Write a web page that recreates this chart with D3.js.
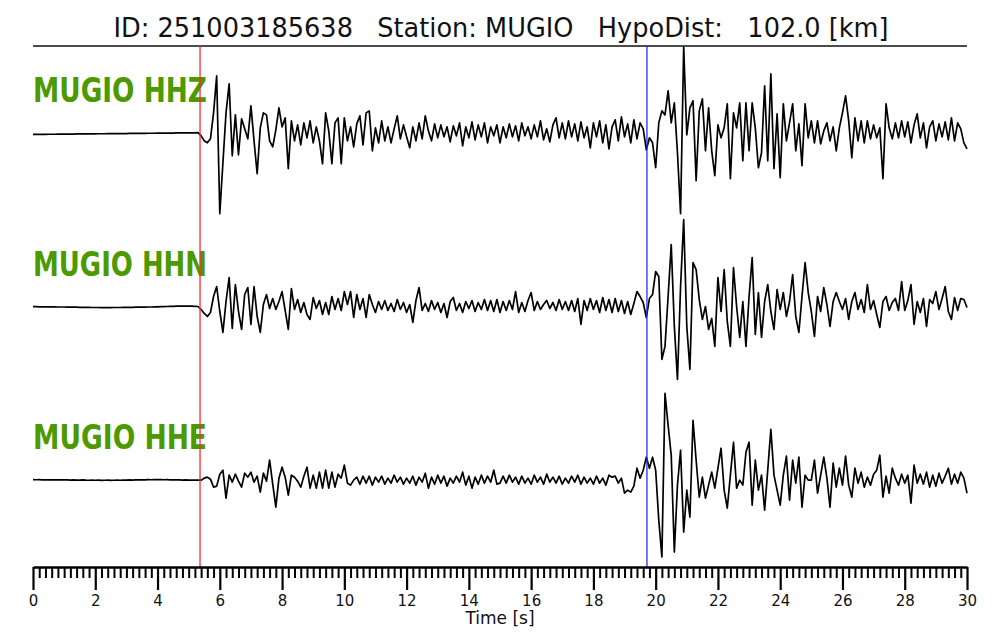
<!DOCTYPE html>
<html><head><meta charset="utf-8">
<script src="https://cdn.jsdelivr.net/npm/d3@7"></script>
<style>body{margin:0;background:#fff}svg{display:block}</style>
</head><body>
<svg id="c" width="1000" height="640"></svg>
<script>
// ---------------- data ----------------
const title = "ID: 251003185638   Station: MUGIO   HypoDist:   102.0 [km]";
const channels = ["MUGIO HHZ", "MUGIO HHN", "MUGIO HHE"];
const xLabel = "Time [s]";
const majorTicks = [0, 2, 4, 6, 8, 10, 12, 14, 16, 18, 20, 22, 24, 26, 28, 30];
const timeDomain = [0, 30];
const sampleStep = 0.1;          // seconds between samples
const pPick = 5.365;             // red pick [s]
const sPick = 19.72;             // blue pick [s]

const hhz = [
-1.6,-1.6,-1.5,-1.5,-1.5,-1.4,-1.4,-1.4,-1.3,-1.3,
-1.3,-1.2,-1.2,-1.2,-1.1,-1.1,-1.1,-1.0,-1.0,-1.0,
-1.0,-0.9,-0.9,-0.9,-0.8,-0.8,-0.8,-0.8,-0.7,-0.7,
-0.7,-0.6,-0.6,-0.6,-0.5,-0.5,-0.5,-0.4,-0.4,-0.4,
-0.3,-0.3,-0.3,-0.2,-0.2,-0.2,-0.1,-0.1,-0.1,0,
0,0,0,0.2,-3,-8,-10,-6,20,57,
-81,-30,20,49,-23,18,-22,14,4,-6,
27,-8,-41,5,20,18,-8,-14,3,25,
6,15,-36,12,-8,8,-12,10,-5,12,
-10,6,-8,-31,20,2,-31,10,15,-31,
15,-8,6,-14,9,17,-12,20,22,-18,
5,-10,12,-8,6,-10,4,17,-6,8,
-4,-15,6,-8,10,-6,17,2,-8,9,
-5,8,-4,6,-9,7,-3,10,-13,6,
-5,11,-7,8,-4,10,-10,6,-3,8,
-10,6,-5,9,-4,7,-8,10,-3,6,
-6,8,-4,12,-7,4,-9,8,15,-5,
10,-6,12,-4,9,-8,11,-5,6,-15,
10,-4,12,-10,8,-16,6,13,-8,16,
-4,9,-10,13,-6,10,4,-17,-5,-10,
-35,10,22,18,42,10,30,-20,-81,86,
-2,25,32,-48,22,34,-18,25,-18,-43,
8,-5,5,29,-46,20,5,30,-28,30,
-18,30,5,-35,-20,47,-28,59,-36,19,
-45,29,-8,10,29,-18,9,-33,29,-5,
12,-10,12,-11,2,10,-8,6,-18,5,
20,37,12,-25,15,-8,12,-10,12,-6,
8,-5,5,-46,29,5,-6,10,-5,12,
-4,11,-10,8,19,-5,10,-15,6,12,
-8,9,-4,11,-7,15,-8,10,4,-10,
-16];

const hhn = [
-0.2,-0.2,-0.3,-0.3,-0.3,-0.4,-0.4,-0.4,-0.5,-0.5,
-0.5,-0.6,-0.6,-0.7,-0.7,-0.8,-0.8,-0.9,-0.9,-1.0,
-1.0,-1.0,-1.1,-1.1,-1.1,-1.1,-1.0,-1.0,-1.0,-0.9,
-0.9,-0.8,-0.8,-0.7,-0.7,-0.6,-0.6,-0.5,-0.5,-0.4,
-0.3,-0.2,-0.1,0,0.1,0.2,0.3,0.3,0.4,0.4,
0.4,0.3,0.2,0,-3,-7,-10,-6,10,20,
-5,-26,5,29,-22,22,-5,-23,12,19,
-18,20,-10,-26,2,12,-2,8,-3,5,
15,-4,-23,18,-3,7,-6,4,-8,-13,
9,-2,6,-8,4,-8,10,-3,8,-4,
15,2,15,-11,12,-3,8,-11,12,2,
-6,5,-3,6,-4,3,-5,7,-3,4,
-6,2,-16,6,19,-4,3,-5,6,-3,
4,-6,3,-11,5,9,-4,3,-6,5,
-2,6,-5,4,-3,7,-4,6,-5,7,
-6,5,-4,6,-3,15,-6,4,-5,6,
14,-4,5,-3,2,6,-2,4,-4,7,
-3,5,-4,6,-5,8,-18,6,-4,8,
-3,6,-6,9,-4,7,-6,8,-5,6,
-7,5,-8,3,15,10,4,-11,8,12,
35,30,-53,-40,10,62,-20,-73,20,87,
-20,-63,44,37,7,-13,0,-23,-12,-40,
29,-5,37,-15,-40,39,0,-31,5,-40,
10,49,-28,14,-31,5,22,-5,-23,17,
-3,14,-10,5,32,-10,-26,10,44,14,
-5,-30,10,-5,19,2,-20,5,14,5,
-3,8,-13,5,14,-3,7,-6,22,-3,
6,-8,-21,5,10,-4,4,8,-4,25,
-4,6,22,-18,5,-6,8,-20,7,3,
15,-3,8,20,-5,-13,9,-4,8,7,
-1];

const hhe = [
0.5,0.4,0.5,0.3,0.4,0.2,0.3,0.4,0.2,0.3,
0.2,0.3,0.1,0.2,0,0.1,0.2,0,-0.1,0,
-0.1,0,-0.2,-0.1,0,-0.2,-0.1,0,-0.1,0.1,
0,0.2,0.1,0.3,0.2,0.4,0.3,0.5,0.4,0.6,
0.5,0.6,0.4,0.5,0.3,0.4,0.2,0.3,0.1,0.2,
0.1,0,0.1,0,0,2,3,1,-7,-6,
6,10,-18,5,-2,6,-1,-7,7,3,
8,-2,4,-12,7,-1,20,-4,-27,2,
13,3,-15,5,3,-1,-7,4,13,-8,
5,-8,8,-8,10,-8,8,-7,6,2,
15,-3,-5,0,3,-4,4,-3,4,-5,
3,-2,4,-4,2,-3,5,-2,3,-4,
2,-3,4,-5,3,-2,7,-8,3,-4,
5,-3,4,-6,2,-3,4,-2,8,-5,
4,-8,3,-4,5,-3,4,-2,10,-4,
-3,4,-3,5,-2,3,-4,4,-3,2,
-4,5,-2,3,-4,6,-2,3,-3,4,
-4,2,-3,4,-2,5,-4,3,-3,2,
-4,4,-3,2,-5,5,3,4,-3,2,
-13,-10,-12,-6,12,2,10,23,12,23,
10,-40,-77,87,55,25,-72,-5,30,-52,
-10,-37,60,20,-17,3,-18,-5,8,-8,
12,32,-10,-28,5,38,-8,0,-5,28,
38,-25,20,-10,5,-30,10,51,5,-10,
-25,5,24,-20,20,-3,23,-27,5,0,
0,20,-13,5,23,2,-27,17,-7,12,
-5,24,-5,-17,12,-3,8,-7,3,-5,
6,10,25,-17,4,-13,12,2,-5,6,
-3,5,-23,15,-3,6,-4,8,-7,5,
-6,7,-3,4,12,-4,6,-3,8,2,
-13];

const traces = [hhz, hhn, hhe];

// ---------------- layout ----------------
const plotLeft = 33, plotRight = 967, plotTop = 46, plotBottom = 567;
const ampMax = 87;

const svg = d3.select("#c");
const x = d3.scaleLinear().domain(timeDomain).range([plotLeft, plotRight]);
const band = d3.scaleBand().domain(d3.range(channels.length)).range([plotTop, plotBottom]);

// title
svg.append("text")
  .attr("x", 501).attr("y", 37)
  .attr("text-anchor", "middle")
  .attr("font-family", "DejaVu Sans, sans-serif")
  .attr("font-size", 26)
  .attr("textLength", 775).attr("lengthAdjust", "spacingAndGlyphs")
  .style("white-space", "pre")
  .attr("fill", "#111")
  .text(title);

// top frame line
svg.append("line")
  .attr("x1", x(timeDomain[0])).attr("x2", x(timeDomain[1]))
  .attr("y1", plotTop).attr("y2", plotTop)
  .attr("stroke", "#111").attr("stroke-width", 1.4);

// traces
traces.forEach((vals, k) => {
  const top = band(k), bot = band(k) + band.bandwidth();
  const y = d3.scaleLinear().domain([-ampMax, ampMax]).range([bot, top]);
  const line = d3.line()
    .x((d, i) => x(i * sampleStep))
    .y(d => y(d));
  svg.append("path")
    .datum(vals)
    .attr("d", line)
    .attr("fill", "none")
    .attr("stroke", "#000")
    .attr("stroke-width", 1.7)
    .attr("stroke-linejoin", "round");

  svg.append("text")
    .attr("x", plotLeft).attr("y", y(0) - 31)
    .attr("font-family", "DejaVu Sans, sans-serif")
    .attr("font-weight", "bold")
    .attr("font-size", 33)
    .attr("textLength", 174).attr("lengthAdjust", "spacingAndGlyphs")
    .attr("fill", "#4c9a00")
    .text(channels[k]);
});

// picks
[[pPick, "#ff2a2a"], [sPick, "#2a2aff"]].forEach(([t, c]) => {
  svg.append("line")
    .attr("x1", x(t)).attr("x2", x(t))
    .attr("y1", plotTop).attr("y2", plotBottom)
    .attr("stroke", c).attr("stroke-width", 1.3);
});

// axis
const minorTicks = d3.range(0, 151).map(i => +(i * 0.2).toFixed(1)).filter(v => !majorTicks.includes(v));
const gMinor = svg.append("g").attr("transform", `translate(0,${plotBottom})`)
  .call(d3.axisBottom(x).tickValues(minorTicks).tickSize(11).tickSizeOuter(0).tickFormat(""));
gMinor.select(".domain").remove();
gMinor.selectAll(".tick line").attr("stroke", "#000").attr("stroke-width", 2);

const gMajor = svg.append("g").attr("transform", `translate(0,${plotBottom})`)
  .call(d3.axisBottom(x).tickValues(majorTicks).tickSize(23).tickSizeOuter(0).tickPadding(5).tickFormat(d3.format("d")));
gMajor.select(".domain").attr("stroke", "#000").attr("stroke-width", 2.5);
gMajor.selectAll(".tick line").attr("stroke", "#000").attr("stroke-width", 2.2);
gMajor.selectAll(".tick text")
  .attr("font-family", "DejaVu Sans, sans-serif")
  .attr("font-size", 15).attr("fill", "#111");

svg.append("text")
  .attr("x", 500).attr("y", 624)
  .attr("text-anchor", "middle")
  .attr("font-family", "DejaVu Sans, sans-serif")
  .attr("font-size", 17).attr("fill", "#111")
  .text(xLabel);
</script>
</body></html>
